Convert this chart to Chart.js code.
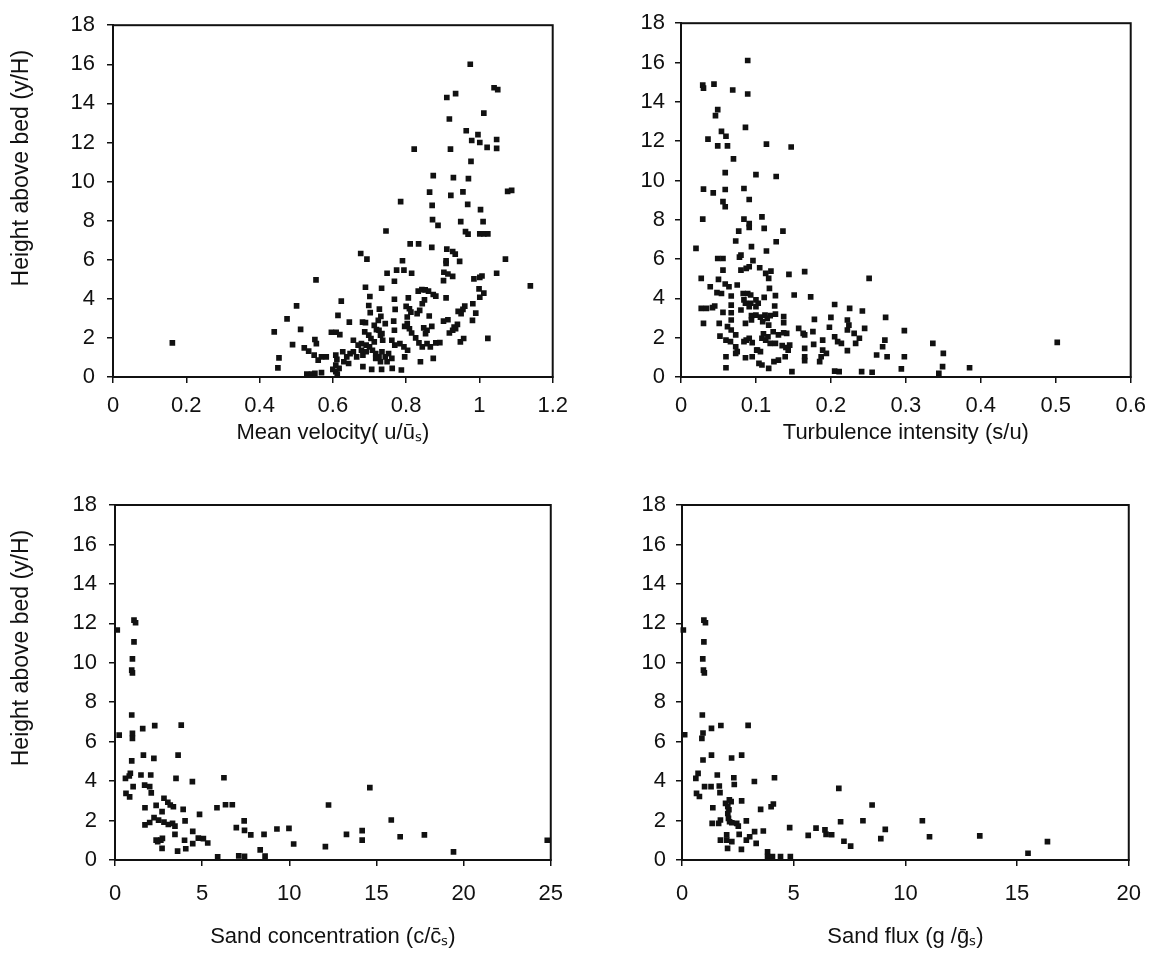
<!DOCTYPE html>
<html>
<head>
<meta charset="utf-8">
<script src="https://cdn.jsdelivr.net/npm/chart.js@4/dist/chart.umd.min.js"></script>
<style>
html,body{margin:0;padding:0;background:#fff;}
#wrap{position:relative;width:1156px;height:959px;overflow:hidden;background:#fff;}
#wrap canvas{position:absolute;}
</style>
</head>
<body>
<div id="wrap">
<canvas id="cv1" width="578" height="470" style="left:0;top:0"></canvas>
<canvas id="cv2" width="578" height="470" style="left:578px;top:0"></canvas>
<canvas id="cv3" width="578" height="489" style="left:0;top:470px"></canvas>
<canvas id="cv4" width="578" height="489" style="left:578px;top:470px"></canvas>
</div>
<script>
// ---------- tick labels ----------
const heightTicks = ['0','2','4','6','8','10','12','14','16','18'];
const velocityTicks = ['0','0.2','0.4','0.6','0.8','1','1.2'];
const turbulenceTicks = ['0','0.1','0.2','0.3','0.4','0.5','0.6'];
const concentrationTicks = ['0','5','10','15','20','25'];
const fluxTicks = ['0','5','10','15','20'];

// ---------- axis titles ----------
const yTitle = 'Height above bed (y/H)';
const velocityTitle = 'Mean velocity( u/ūₛ)';
const turbulenceTitle = 'Turbulence intensity (s/u)';
const concentrationTitle = 'Sand concentration (c/c̄ₛ)';
const fluxTitle = 'Sand flux (g /ḡₛ)';

// ---------- data: [x, y/H] ----------
const meanVelocityPts = [
[0.162,1.75],[0.975,16.0],[1.04,14.8],[1.05,14.7],[0.911,14.3],[0.935,14.5],
[1.012,13.5],[0.918,13.2],[0.964,12.6],[0.996,12.4],[0.979,12.1],[1.001,12.0],[1.021,11.75],[1.047,12.15],[1.047,11.7],
[0.822,11.66],[0.921,11.66],[0.977,11.03],[0.874,10.3],[0.929,10.2],[0.970,10.15],
[0.864,9.46],[0.922,9.29],[0.955,9.47],[1.077,9.5],[1.088,9.55],
[0.785,8.97],[0.871,8.78],[0.968,8.83],[1.003,8.56],
[0.872,8.05],[0.887,7.76],[0.949,7.95],[1.010,7.95],
[0.962,7.44],[0.969,7.31],[1.001,7.32],[1.012,7.32],[1.023,7.32],[0.745,7.47],
[0.811,6.81],[0.834,6.81],[0.870,6.63],
[0.911,6.54],[0.927,6.42],[0.934,6.29],[0.946,5.92],[0.909,5.95],[0.909,5.81],
[1.071,6.03],[0.676,6.32],[0.693,6.03],[0.790,5.95],
[0.774,5.47],[0.794,5.47],[0.815,5.31],[0.748,5.31],
[0.903,5.36],[0.914,5.27],[0.927,5.15],[0.902,4.93],
[1.047,5.31],[0.985,5.02],[1.001,5.10],[1.007,5.17],
[1.139,4.66],[0.554,4.97],[0.768,4.90],[0.689,4.59],[0.733,4.54],[0.999,4.51],
[0.833,4.39],[0.843,4.47],[0.852,4.46],[0.861,4.39],[0.874,4.22],[0.881,4.14],
[1.012,4.29],[1.001,4.08],[0.701,4.12],[0.768,3.98],[0.806,4.05],[0.909,4.05],
[0.850,3.95],[0.844,3.75],[0.623,3.88],[0.501,3.64],
[0.698,3.66],[0.702,3.29],[0.727,3.47],[0.770,3.46],
[0.800,3.61],[0.809,3.49],[0.813,3.32],[0.837,3.41],[0.830,3.24],
[0.960,3.63],[0.955,3.46],[0.982,3.75],[0.990,3.27],
[0.863,3.12],[0.803,3.07],[0.614,3.15],[0.475,2.97],
[0.942,3.36],[0.950,3.24],[0.914,2.93],[0.902,2.86],
[0.731,3.10],[0.724,2.90],[0.645,2.81],[0.681,2.81],[0.689,2.78],[0.766,2.86],
[0.803,2.73],[0.796,2.59],[0.981,2.90],[0.940,2.69],[0.935,2.47],
[0.440,2.31],[0.512,2.44],[0.596,2.29],[0.609,2.29],[0.619,2.17],
[0.713,2.64],[0.719,2.42],[0.743,2.73],[0.809,2.47],[0.815,2.25],
[0.848,2.51],[0.870,2.59],[0.857,2.39],[0.853,2.22],
[0.918,2.25],[0.927,2.39],[0.931,2.56],
[0.687,2.31],[0.698,2.14],[0.726,2.39],[0.734,2.22],[0.768,2.39],
[0.551,1.92],[0.656,1.88],[0.678,1.71],[0.691,1.63],[0.704,1.97],[0.713,1.80],
[0.730,2.14],[0.736,1.88],[0.761,1.88],[0.769,1.63],[0.783,1.71],[0.794,1.54],
[0.826,2.0],[0.835,1.75],[0.844,1.54],[0.857,1.71],[0.866,1.54],[0.881,1.75],[0.892,1.76],
[0.948,1.80],[0.957,1.97],[1.023,1.98],
[0.490,1.66],[0.555,1.71],[0.522,1.49],[0.534,1.32],
[0.549,1.12],[0.560,0.86],[0.569,1.03],[0.582,1.03],
[0.453,0.98],[0.450,0.47],
[0.608,1.12],[0.611,0.90],[0.608,0.61],[0.617,0.44],
[0.627,1.29],[0.638,1.03],[0.647,1.20],[0.630,0.78],[0.643,0.69],
[0.656,1.29],[0.665,1.03],[0.669,1.63],[0.678,1.37],[0.682,1.12],[0.691,1.29],
[0.700,1.54],[0.708,1.37],[0.717,1.20],[0.726,1.03],[0.734,1.29],[0.743,1.03],[0.752,1.20],[0.761,0.95],[0.748,0.78],[0.730,0.78],[0.717,0.95],
[0.682,0.53],[0.706,0.39],[0.733,0.39],[0.762,0.44],[0.787,0.36],
[0.796,1.03],[0.804,1.37],[0.839,0.78],[0.874,0.95],
[0.529,0.15],[0.542,0.15],[0.551,0.19],[0.569,0.22],
[0.600,0.39],[0.608,0.27],[0.612,0.15]
];

const turbulencePts = [
[0.089,16.1],[0.029,14.85],[0.030,14.7],[0.044,14.9],[0.069,14.6],[0.089,14.4],
[0.049,13.6],[0.046,13.3],[0.086,12.7],[0.054,12.5],[0.060,12.25],[0.036,12.1],
[0.049,11.76],[0.062,11.76],[0.114,11.85],[0.147,11.7],[0.070,11.1],
[0.059,10.4],[0.100,10.3],[0.127,10.2],
[0.030,9.56],[0.043,9.37],[0.059,9.54],[0.084,9.59],[0.091,9.03],[0.056,8.92],[0.059,8.66],
[0.029,8.03],[0.084,8.03],[0.091,7.8],[0.091,7.61],[0.108,8.15],[0.111,7.56],
[0.077,7.42],[0.136,7.42],[0.073,6.92],[0.127,6.88],
[0.020,6.54],[0.094,6.63],[0.114,6.41],
[0.049,6.03],[0.056,6.03],[0.078,6.1],[0.080,6.2],[0.096,5.92],
[0.056,5.44],[0.080,5.44],[0.087,5.53],[0.091,5.61],[0.105,5.56],
[0.113,5.27],[0.120,5.39],[0.117,5.02],[0.144,5.22],[0.165,5.36],[0.251,5.02],
[0.027,5.02],[0.050,4.97],[0.039,4.59],[0.059,4.73],[0.064,4.59],[0.075,4.68],
[0.048,4.29],[0.054,4.25],[0.067,4.12],[0.083,4.25],[0.089,4.25],[0.093,4.17],
[0.084,3.92],[0.093,3.75],[0.100,3.92],[0.111,4.05],[0.118,4.51],[0.126,4.14],[0.151,4.17],[0.173,4.08],
[0.027,3.49],[0.034,3.49],[0.042,3.53],[0.045,3.61],[0.067,3.66],
[0.056,3.29],[0.067,3.27],[0.080,3.41],[0.086,3.75],[0.091,3.58],[0.100,3.58],[0.103,3.75],
[0.125,3.61],[0.205,3.69],[0.225,3.49],[0.242,3.36],
[0.094,3.12],[0.100,3.15],[0.106,3.05],[0.112,3.15],[0.119,3.12],[0.126,3.20],
[0.030,2.73],[0.051,2.73],[0.067,2.90],[0.062,2.56],[0.067,2.39],[0.073,2.14],
[0.086,2.73],[0.094,2.90],[0.109,2.81],[0.115,2.98],[0.117,2.64],
[0.137,3.07],[0.137,2.76],[0.178,2.93],[0.200,3.03],[0.222,2.90],[0.224,2.64],[0.222,2.39],[0.273,3.03],
[0.157,2.47],[0.163,2.22],[0.176,2.31],[0.198,2.53],[0.245,2.47],[0.298,2.36],
[0.052,2.08],[0.060,1.88],[0.066,1.80],[0.073,1.54],[0.075,1.29],
[0.084,1.80],[0.095,1.75],[0.101,1.37],[0.106,1.29],
[0.087,1.88],[0.091,1.97],[0.108,1.97],[0.113,1.88],[0.119,1.71],[0.126,1.71],
[0.110,2.2],[0.116,2.05],[0.123,2.3],[0.130,2.14],[0.137,2.25],[0.141,2.22],
[0.135,1.6],[0.140,1.5],[0.145,1.62],
[0.165,2.14],[0.189,1.88],[0.205,2.05],[0.209,1.80],[0.214,1.71],
[0.231,2.22],[0.238,1.97],[0.233,1.71],
[0.177,1.66],[0.165,1.46],[0.189,1.37],[0.194,1.20],[0.187,1.03],[0.185,0.78],
[0.222,1.34],[0.272,1.88],[0.269,1.54],[0.336,1.71],[0.350,1.20],[0.502,1.76],
[0.261,1.12],[0.275,1.03],[0.298,1.03],
[0.060,1.03],[0.073,1.20],[0.086,0.98],[0.095,1.03],[0.102,1.37],
[0.108,0.61],[0.104,0.69],[0.117,0.44],[0.124,0.78],[0.130,0.86],[0.139,1.03],[0.143,1.37],
[0.165,1.03],[0.165,0.83],[0.060,0.47],
[0.148,0.27],[0.205,0.30],[0.211,0.27],[0.241,0.27],[0.255,0.24],[0.294,0.41],
[0.344,0.19],[0.349,0.53],[0.385,0.47]
];

const concentrationPts = [
[1.09,12.16],[1.18,12.03],[0.13,11.66],[1.09,11.06],[1.0,10.2],[0.96,9.63],[1.0,9.49],
[0.96,7.35],[0.24,6.33],[1.0,6.42],[1.0,6.17],[1.59,6.66],[2.28,6.81],[3.80,6.84],
[0.96,5.03],[1.63,5.32],[2.23,5.15],[3.62,5.32],
[0.60,4.14],[0.88,4.40],[0.82,4.26],[1.49,4.31],[2.05,4.31],[3.50,4.14],[4.44,3.97],[6.25,4.17],
[0.63,3.38],[0.84,3.20],[1.04,3.72],[1.70,3.80],[1.99,3.72],[2.08,3.40],[14.62,3.67],
[1.72,2.65],[2.36,2.77],[2.81,3.13],[3.03,2.93],[3.17,2.79],[3.35,2.70],[3.91,2.57],
[4.85,2.31],[5.85,2.65],[6.34,2.80],[6.73,2.80],[12.25,2.79],
[1.72,1.78],[1.99,1.90],[2.24,2.15],[2.50,2.02],[2.70,2.45],[2.81,1.92],[3.06,1.80],[3.30,1.86],[3.44,1.72],
[4.02,1.98],[6.96,1.64],[7.41,1.98],[7.43,1.50],[7.79,1.27],[8.55,1.30],[9.29,1.57],[9.98,1.60],
[10.25,0.81],[12.07,0.68],[13.28,1.30],[14.18,1.49],[14.18,1.01],[15.85,2.03],[16.36,1.18],[17.75,1.27],[19.42,0.41],
[2.36,1.01],[2.63,1.01],[2.45,0.93],[2.72,1.10],[2.70,0.59],[3.44,1.30],[3.59,0.45],
[3.99,1.0],[4.06,0.57],[4.46,1.45],[4.46,0.83],[4.78,1.11],[5.07,1.08],[5.32,0.86],
[5.89,0.16],[7.10,0.21],[7.43,0.19],[8.33,0.51],[8.61,0.20],
[24.8,1.0]
];

const fluxPts = [
[0.98,12.16],[1.05,12.03],[0.06,11.66],[0.98,11.06],[0.93,10.2],[0.96,9.63],[1.0,9.49],
[0.91,7.35],[0.12,6.35],[0.94,6.44],[0.89,6.17],[1.32,6.67],[1.74,6.82],[2.96,6.83],
[0.94,5.07],[1.32,5.32],[2.22,5.17],[2.67,5.32],
[0.62,4.14],[0.72,4.39],[1.58,4.31],[2.32,4.17],[3.24,3.98],[4.14,4.17],
[0.65,3.38],[0.78,3.22],[1.01,3.72],[1.30,3.72],[1.67,3.75],[1.70,3.42],[7.02,3.63],[8.51,2.79],
[1.38,2.65],[1.95,2.87],[2.05,2.70],[2.12,3.05],[2.20,2.96],[2.10,2.55],[2.05,2.36],[2.34,3.83],[2.67,3.0],
[3.52,2.57],[3.99,2.70],[4.09,2.84],
[1.35,1.86],[1.64,1.86],[1.72,2.03],[2.08,2.11],[2.13,1.94],[2.23,1.89],[2.45,1.86],[2.52,1.72],[2.88,1.98],
[3.64,1.47],[4.82,1.64],
[2.0,1.27],[1.72,1.01],[2.0,1.01],[2.23,0.93],[2.04,0.59],[2.56,1.30],[2.66,0.54],
[2.88,1.01],[3.03,1.18],[3.25,1.44],[3.32,0.84],
[3.83,0.42],[3.83,0.17],[4.05,0.17],[4.41,0.17],[4.85,0.17],
[5.65,1.25],[6.0,1.62],[6.4,1.53],[6.45,1.30],[6.7,1.28],[7.1,1.94],[7.25,0.95],[7.55,0.70],
[8.1,1.99],[8.9,1.08],[9.1,1.55],[10.76,1.99],[11.08,1.18],[13.33,1.22],[15.49,0.34],[16.36,0.93]
];

// ---------- chart factory ----------
const INK = '#111111';
const FONT = "'Liberation Sans', Arial, Helvetica, sans-serif";

const framePlugin = {
  id: 'frame',
  afterDraw(chart, args, opts) {
    const {ctx, chartArea: a} = chart;
    ctx.save();
    ctx.strokeStyle = INK;
    ctx.lineWidth = 2;
    ctx.strokeRect(a.left, a.top, a.right - a.left, a.bottom - a.top);
    if (opts && opts.yTitle) {
      ctx.fillStyle = INK;
      ctx.font = '23px ' + FONT;
      ctx.textAlign = 'center';
      ctx.textBaseline = 'middle';
      ctx.translate(opts.yTitleX, a.top + opts.yTitleOffset);
      ctx.rotate(-Math.PI / 2);
      ctx.fillText(opts.yTitle, 0, 0);
    }
    ctx.restore();
  }
};

function makeChart(id, pts, xTicks, xTitle, box, extra) {
  const cv = document.getElementById(id);
  const W = cv.width, H = cv.height;
  const xVals = xTicks.map(Number);
  const yVals = heightTicks.map(Number);
  return new Chart(cv, {
    type: 'scatter',
    data: {
      datasets: [{
        data: pts.map(([x, y]) => ({x, y})),
        pointStyle: 'rect',
        pointRadius: 4,
        pointHoverRadius: 4,
        borderWidth: 0,
        backgroundColor: INK,
        clip: 8
      }]
    },
    options: {
      responsive: false,
      animation: false,
      events: [],
      layout: {padding: {left: 0, top: box.top, right: W - box.right, bottom: 0}},
      plugins: {
        legend: {display: false},
        tooltip: {enabled: false},
        frame: extra
      },
      scales: {
        x: {
          type: 'linear',
          min: xVals[0], max: xVals[xVals.length - 1],
          afterFit: s => { s.height = H - box.bottom; },
          afterBuildTicks: s => { s.ticks = xVals.map(v => ({value: v})); },
          ticks: {
            color: INK, font: {family: FONT, size: 22}, padding: box.xTickPad,
            autoSkip: false, maxRotation: 0,
            callback: (v, i) => xTicks[i]
          },
          grid: {display: true, drawOnChartArea: false, drawTicks: true, tickLength: 6, color: INK, lineWidth: 1.5},
          border: {display: true, color: INK, width: 2},
          title: {display: true, text: xTitle, color: INK, font: {family: FONT, size: 22},
                  padding: {top: 0, bottom: box.xTitlePad}}
        },
        y: {
          type: 'linear',
          min: 0, max: 18,
          afterFit: s => { s.width = box.left; },
          afterBuildTicks: s => { s.ticks = yVals.map(v => ({value: v})); },
          ticks: {
            color: INK, font: {family: FONT, size: 22}, padding: box.yTickPad,
            autoSkip: false,
            callback: (v, i) => heightTicks[i]
          },
          grid: {display: true, drawOnChartArea: false, drawTicks: true, tickLength: 6, color: INK, lineWidth: 1.5},
          border: {display: true, color: INK, width: 2}
        }
      }
    },
    plugins: [framePlugin]
  });
}

makeChart('cv1', meanVelocityPts, velocityTicks, velocityTitle,
  {left: 113, right: 571, top: 22, bottom: 377, xTickPad: 10, xTitlePad: 24, yTickPad: 12},
  {yTitle: yTitle, yTitleX: 22, yTitleOffset: 143});
makeChart('cv2', turbulencePts, turbulenceTicks, turbulenceTitle,
  {left: 103, right: 559, top: 22, bottom: 377, xTickPad: 10, xTitlePad: 24, yTickPad: 10},
  {});
makeChart('cv3', concentrationPts, concentrationTicks, concentrationTitle,
  {left: 115, right: 575, top: 35, bottom: 390, xTickPad: 15, xTitlePad: 9, yTickPad: 12},
  {yTitle: yTitle, yTitleX: 22, yTitleOffset: 143});
makeChart('cv4', fluxPts, fluxTicks, fluxTitle,
  {left: 104, right: 562, top: 35, bottom: 390, xTickPad: 15, xTitlePad: 9, yTickPad: 10},
  {});
</script>
</body>
</html>
